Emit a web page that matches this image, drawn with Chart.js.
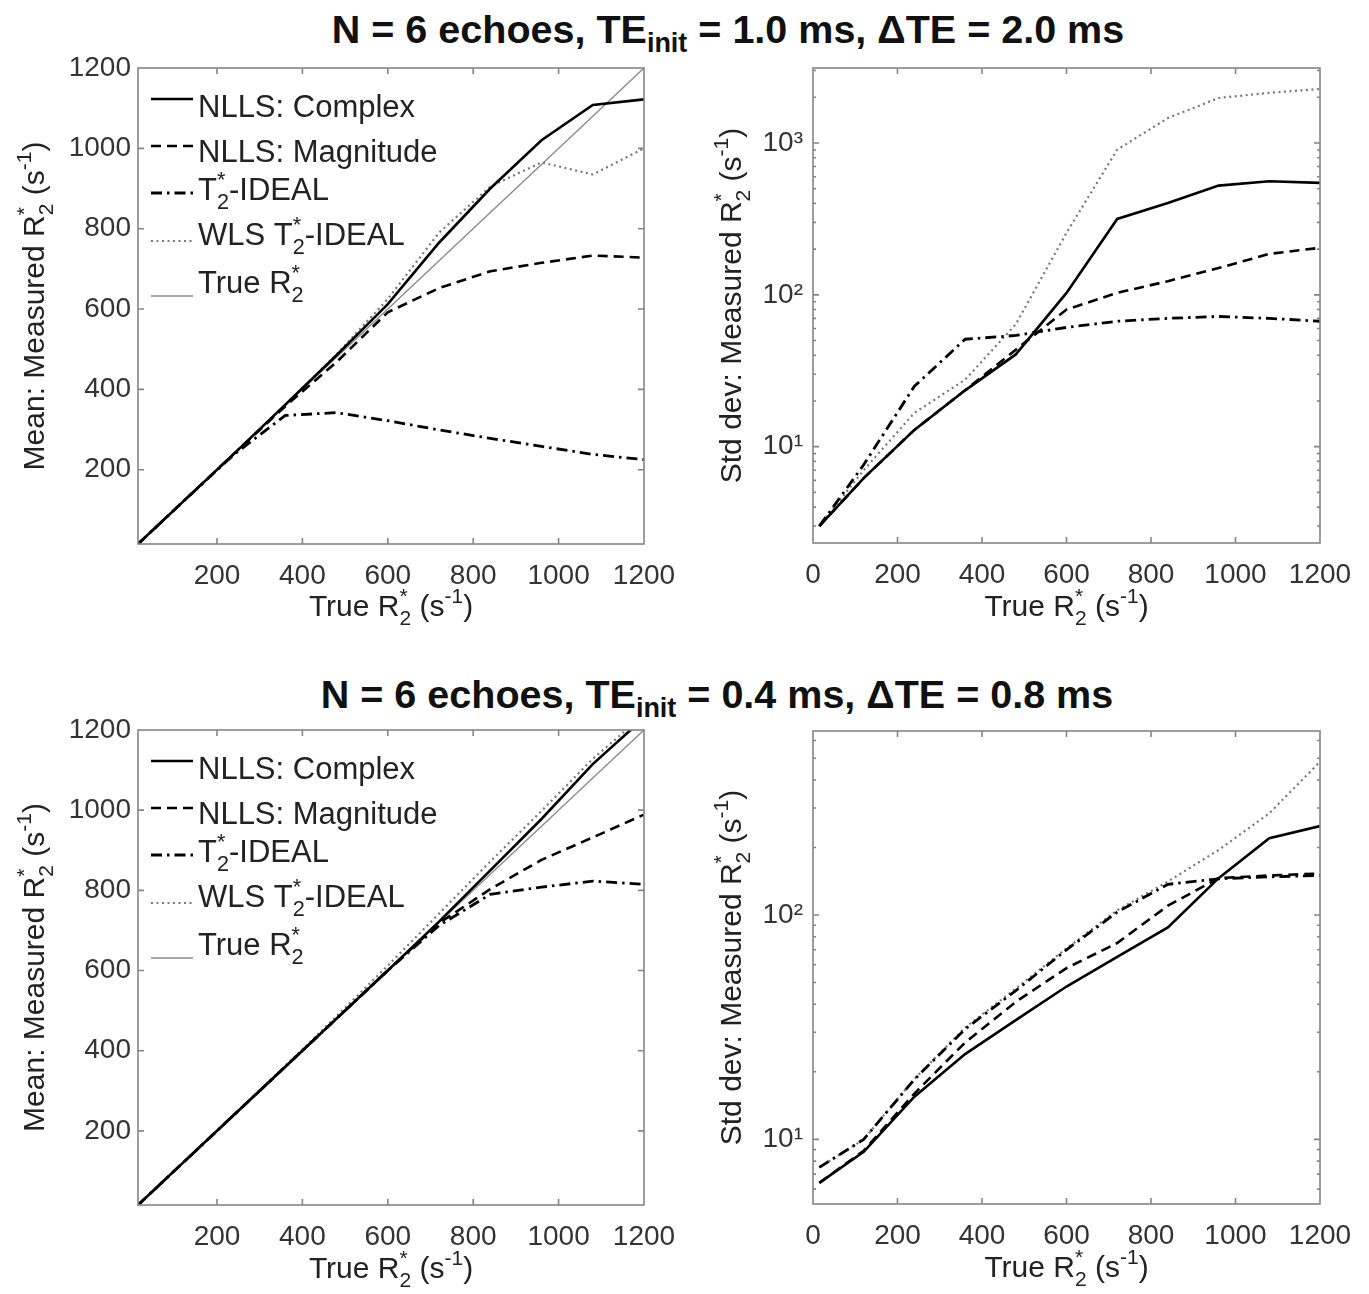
<!DOCTYPE html>
<html><head><meta charset="utf-8">
<script src="https://cdn.jsdelivr.net/npm/chart.js@4.4.1/dist/chart.umd.min.js"></script>
<style>
html,body{margin:0;padding:0;background:#fff;}
body{width:1369px;height:1294px;position:relative;overflow:hidden;font-family:"Liberation Sans",Arial,sans-serif;}
.title{position:absolute;width:1200px;text-align:center;font-weight:bold;font-size:39.5px;line-height:38px;color:#111;white-space:nowrap;}
.title sub{font-size:27px;vertical-align:-9px;line-height:0;}
.box{position:absolute;}
canvas{display:block;}
</style></head><body>
<div class="title" style="left:128px;top:10px">N = 6 echoes, TE<sub>init</sub> = 1.0 ms, ΔTE = 2.0 ms</div>
<div class="title" style="left:117px;top:675px">N = 6 echoes, TE<sub>init</sub> = 0.4 ms, ΔTE = 0.8 ms</div>
<div class="box" style="left:0;top:50px"><canvas id="c1" width="684" height="600"></canvas></div>
<div class="box" style="left:684px;top:50px"><canvas id="c2" width="685" height="600"></canvas></div>
<div class="box" style="left:0;top:712px"><canvas id="c3" width="684" height="582"></canvas></div>
<div class="box" style="left:684px;top:712px"><canvas id="c4" width="685" height="582"></canvas></div>
<script>
// ---------------- data ----------------
const xVals = [15, 120, 240, 360, 480, 600, 720, 840, 960, 1080, 1200];
const seriesLabels = ["NLLS: Complex", "NLLS: Magnitude", "T_2^*-IDEAL", "WLS T_2^*-IDEAL", "True R_2^*"];

// TE_init = 1.0 ms, dTE = 2.0 ms
const meanComplexA = [15, 120, 240, 362, 485, 612, 765, 900, 1020, 1108, 1122];
const meanMagA     = [15, 120, 240, 358, 468, 592, 652, 694, 715, 733, 728];
const meanIdealA   = [15, 120, 238, 335, 342, 322, 299, 278, 258, 238, 225];
const meanWlsA     = [15, 120, 240, 362, 487, 625, 790, 905, 965, 935, 1000];
const sdComplexA = [3.0, 6.2, 12.9, 23.5, 40.5, 103, 316, 403, 524, 560, 546];
const sdMagA     = [3.0, 6.2, 12.9, 23.5, 43.5, 80, 103, 123, 150, 186, 204];
const sdIdealA   = [3.0, 7.6, 25, 51, 54, 61, 67, 70, 72, 70, 67];
const sdWlsA     = [3.0, 7.0, 16.7, 27.6, 64, 256, 904, 1460, 1980, 2140, 2270];

// TE_init = 0.4 ms, dTE = 0.8 ms
const meanComplexB = [15, 120, 240, 360, 480, 600, 722, 850, 978, 1115, 1230];
const meanMagB     = [15, 120, 240, 360, 480, 600, 718, 803, 876, 932, 989];
const meanIdealB   = [15, 120, 240, 360, 480, 600, 712, 790, 808, 823, 815];
const meanWlsB     = [15, 120, 240, 362, 486, 612, 742, 872, 998, 1128, 1238];
const sdComplexB = [6.4, 8.8, 15.5, 24, 34, 48, 65, 88, 146, 220, 249];
const sdMagB     = [6.4, 8.9, 16, 27, 41, 58, 75, 110, 146, 150, 153];
const sdIdealB   = [7.5, 10, 18.5, 31, 46, 70, 103, 137, 145, 148, 150];
const sdWlsB     = [7.5, 10, 18.6, 31.5, 47, 71, 105, 141, 195, 284, 482];

const trueR2 = xVals.slice();

// tick labels
const xTicksMean = [200, 400, 600, 800, 1000, 1200];
const xTicksSd   = [0, 200, 400, 600, 800, 1000, 1200];
const yTicksMean = [200, 400, 600, 800, 1000, 1200];
const yTicksSdA  = [10, 100, 1000];
const yTicksSdB  = [10, 100];

const xTitleText = "True R_2^* (s^{-1})";
const yTitleMean = "Mean: Measured R_2^* (s^{-1})";
const yTitleSd   = "Std dev: Measured R_2^* (s^{-1})";

// ---------------- styles ----------------
const FONT = '"Liberation Sans", Arial, Helvetica, sans-serif';
const styles = [
  {borderColor:'#000', borderWidth:2.6, borderDash:[]},
  {borderColor:'#000', borderWidth:2.6, borderDash:[10,6]},
  {borderColor:'#000', borderWidth:2.8, borderDash:[11,5,2.5,5]},
  {borderColor:'#777', borderWidth:2.2, borderDash:[2,3.5]},
  {borderColor:'#8c8c8c', borderWidth:1.4, borderDash:[]}
];

// ---------------- rich text ----------------
function parseRich(s){
  const out=[]; let i=0, buf='';
  const readArg=()=>{ if(s[i]==='{'){const j=s.indexOf('}',i); const a=s.slice(i+1,j); i=j+1; return a;} return s[i++]; };
  while(i<s.length){
    const c=s[i];
    if(c==='_'||c==='^'){
      if(buf){out.push({t:buf});buf='';}
      const item={};
      while(i<s.length&&(s[i]==='_'||s[i]==='^')){const k=s[i];i++;const a=readArg(); if(k==='_')item.sub=a; else item.sup=a;}
      out.push(item);
    } else {buf+=c;i++;}
  }
  if(buf)out.push({t:buf});
  return out;
}
function richWidth(ctx, parts, size){
  let w=0;
  for(const p of parts){
    if(p.t!==undefined){ctx.font=size+'px '+FONT; w+=ctx.measureText(p.t).width;}
    else { ctx.font=(size*0.7)+'px '+FONT;
      const a=p.sub?ctx.measureText(p.sub).width:0, b=p.sup?ctx.measureText(p.sup).width:0; w+=Math.max(a,b);}
  }
  return w;
}
function drawRich(ctx, parts, x, y, size, color){
  ctx.fillStyle=color; ctx.textBaseline='alphabetic'; ctx.textAlign='left';
  for(const p of parts){
    if(p.t!==undefined){ctx.font=size+'px '+FONT; ctx.fillText(p.t,x,y); x+=ctx.measureText(p.t).width;}
    else { ctx.font=(size*0.7)+'px '+FONT; let a=0,b=0;
      if(p.sub){ctx.fillText(p.sub,x,y+size*0.3); a=ctx.measureText(p.sub).width;}
      if(p.sup){ctx.fillText(p.sup,x,y-size*0.42); b=ctx.measureText(p.sup).width;}
      x+=Math.max(a,b);}
  }
}

// ---------------- decoration plugin ----------------
const decor = {
  id:'decor',
  afterDraw(chart, args, o){
    const ctx=chart.ctx, ca=chart.chartArea, xs=chart.scales.x, ys=chart.scales.y;
    ctx.save();
    ctx.strokeStyle='#858585'; ctx.lineWidth=1.6; ctx.setLineDash([]);
    ctx.strokeRect(ca.left, ca.top, ca.right-ca.left, ca.bottom-ca.top);
    ctx.beginPath();
    const MAJ=6, MIN=3;
    for(const t of xs.ticks){ const px=xs.getPixelForValue(t.value);
      if(px<ca.left+1||px>ca.right-1) continue;
      ctx.moveTo(px,ca.bottom); ctx.lineTo(px,ca.bottom-MAJ);
      ctx.moveTo(px,ca.top); ctx.lineTo(px,ca.top+MAJ); }
    if(ys.type==='logarithmic'){
      const e0=Math.floor(Math.log10(ys.min)), e1=Math.ceil(Math.log10(ys.max));
      for(let e=e0;e<=e1;e++) for(let m=1;m<10;m++){
        const v=m*Math.pow(10,e); if(v<ys.min||v>ys.max) continue;
        const py=ys.getPixelForValue(v), L=(m===1)?MAJ:MIN;
        ctx.moveTo(ca.left,py); ctx.lineTo(ca.left+L,py);
        ctx.moveTo(ca.right,py); ctx.lineTo(ca.right-L,py);
      }
    } else {
      for(const t of ys.ticks){ const py=ys.getPixelForValue(t.value);
        if(py<ca.top+1||py>ca.bottom-1) continue;
        ctx.moveTo(ca.left,py); ctx.lineTo(ca.left+MAJ,py);
        ctx.moveTo(ca.right,py); ctx.lineTo(ca.right-MAJ,py); }
    }
    ctx.stroke();
    const TS=30, col='#222';
    const xp=parseRich(o.xTitle), xw=richWidth(ctx,xp,TS);
    drawRich(ctx,xp,(ca.left+ca.right)/2-xw/2, ca.bottom+o.xTitleDy, TS, col);
    const yp=parseRich(o.yTitle), yw=richWidth(ctx,yp,TS);
    ctx.save(); ctx.translate(ca.left+o.yTitleDx,(ca.top+ca.bottom)/2); ctx.rotate(-Math.PI/2);
    drawRich(ctx,yp,-yw/2,0,TS,col); ctx.restore();
    if(o.legend){
      const sY=[31,78,125,173,228], tY=[49,94,132,177,225];
      chart.data.datasets.forEach((ds,i)=>{
        ctx.beginPath(); ctx.strokeStyle=ds.borderColor; ctx.lineWidth=ds.borderWidth;
        ctx.setLineDash(ds.borderDash||[]);
        ctx.moveTo(ca.left+13,ca.top+sY[i]); ctx.lineTo(ca.left+55,ca.top+sY[i]); ctx.stroke();
        ctx.setLineDash([]);
        drawRich(ctx,parseRich(ds.label),ca.left+60,ca.top+tY[i],31,col);
      });
    }
    ctx.restore();
  }
};

function makeDatasets(arrs){
  return arrs.map((a,i)=>Object.assign({
    label: seriesLabels[i],
    data: xVals.map((x,k)=>({x:x, y:a[k]})),
    pointRadius:0, tension:0, fill:false, spanGaps:true
  }, styles[i]));
}

function zeroPad(s){ s.paddingLeft=0; s.paddingRight=0; s.paddingTop=0; s.paddingBottom=0; }

function makeChart(id, cfg){
  const tickFont={family:FONT,size:28};
  new Chart(document.getElementById(id),{
    type:'line',
    data:{datasets:makeDatasets(cfg.series)},
    options:{
      responsive:false, animation:false, events:[],
      layout:{padding:cfg.padding},
      plugins:{legend:{display:false}, tooltip:{enabled:false}, title:{display:false},
        decor:{xTitle:xTitleText, yTitle:cfg.yTitle, xTitleDy:cfg.xTitleDy, yTitleDx:cfg.yTitleDx, legend:cfg.legend}},
      scales:{
        x:{type:'linear', min:cfg.xMin, max:1200,
           grid:{display:false, drawTicks:false}, border:{display:false},
           afterBuildTicks:(s)=>{s.ticks=cfg.xTicks.map(v=>({value:v}));},
           afterFit:(s)=>{s.height=cfg.xAxisH; zeroPad(s);},
           ticks:{font:tickFont,color:'#333',padding:cfg.xPad,maxRotation:0,autoSkip:false,callback:(v)=>String(v)}},
        y:{type:cfg.yType, min:cfg.yMin, max:cfg.yMax,
           grid:{display:false, drawTicks:false}, border:{display:false},
           afterBuildTicks:(s)=>{s.ticks=cfg.yTicks.map(v=>({value:v}));},
           afterFit:(s)=>{s.width=cfg.yAxisW; zeroPad(s);},
           ticks:{font:tickFont,color:'#333',padding:cfg.yPad,autoSkip:false,
             callback:(v)=>{ if(cfg.yType==='logarithmic'){const e=Math.round(Math.log10(v)); return '10'+({1:'\u00B9',2:'\u00B2',3:'\u00B3'})[e];} return String(v);} }}
      }
    },
    plugins:[decor]
  });
}

makeChart('c1',{series:[meanComplexA,meanMagA,meanIdealA,meanWlsA,trueR2], yType:'linear', yMin:15, yMax:1200, xMin:15,
  xTicks:xTicksMean, yTicks:yTicksMean, padding:{top:18,right:40,left:0,bottom:0}, yAxisW:138, xAxisH:106,
  xPad:15, yPad:7, yTitle:yTitleMean, xTitleDy:72, yTitleDx:-94, legend:true});
makeChart('c2',{series:[sdComplexA,sdMagA,sdIdealA,sdWlsA], yType:'logarithmic', yMin:2.32, yMax:3119, xMin:0,
  xTicks:xTicksSd, yTicks:yTicksSdA, padding:{top:18,right:49,left:0,bottom:0}, yAxisW:129, xAxisH:107,
  xPad:15, yPad:10, yTitle:yTitleSd, xTitleDy:73, yTitleDx:-72, legend:false});
makeChart('c3',{series:[meanComplexB,meanMagB,meanIdealB,meanWlsB,trueR2], yType:'linear', yMin:15, yMax:1200, xMin:15,
  xTicks:xTicksMean, yTicks:yTicksMean, padding:{top:18,right:40,left:0,bottom:0}, yAxisW:138, xAxisH:89,
  xPad:15, yPad:7, yTitle:yTitleMean, xTitleDy:73, yTitleDx:-94, legend:true});
makeChart('c4',{series:[sdComplexB,sdMagB,sdIdealB,sdWlsB], yType:'logarithmic', yMin:5.15, yMax:661, xMin:0,
  xTicks:xTicksSd, yTicks:yTicksSdB, padding:{top:19,right:49,left:0,bottom:0}, yAxisW:129, xAxisH:90,
  xPad:15, yPad:10, yTitle:yTitleSd, xTitleDy:73, yTitleDx:-72, legend:false});
</script>
</body></html>
